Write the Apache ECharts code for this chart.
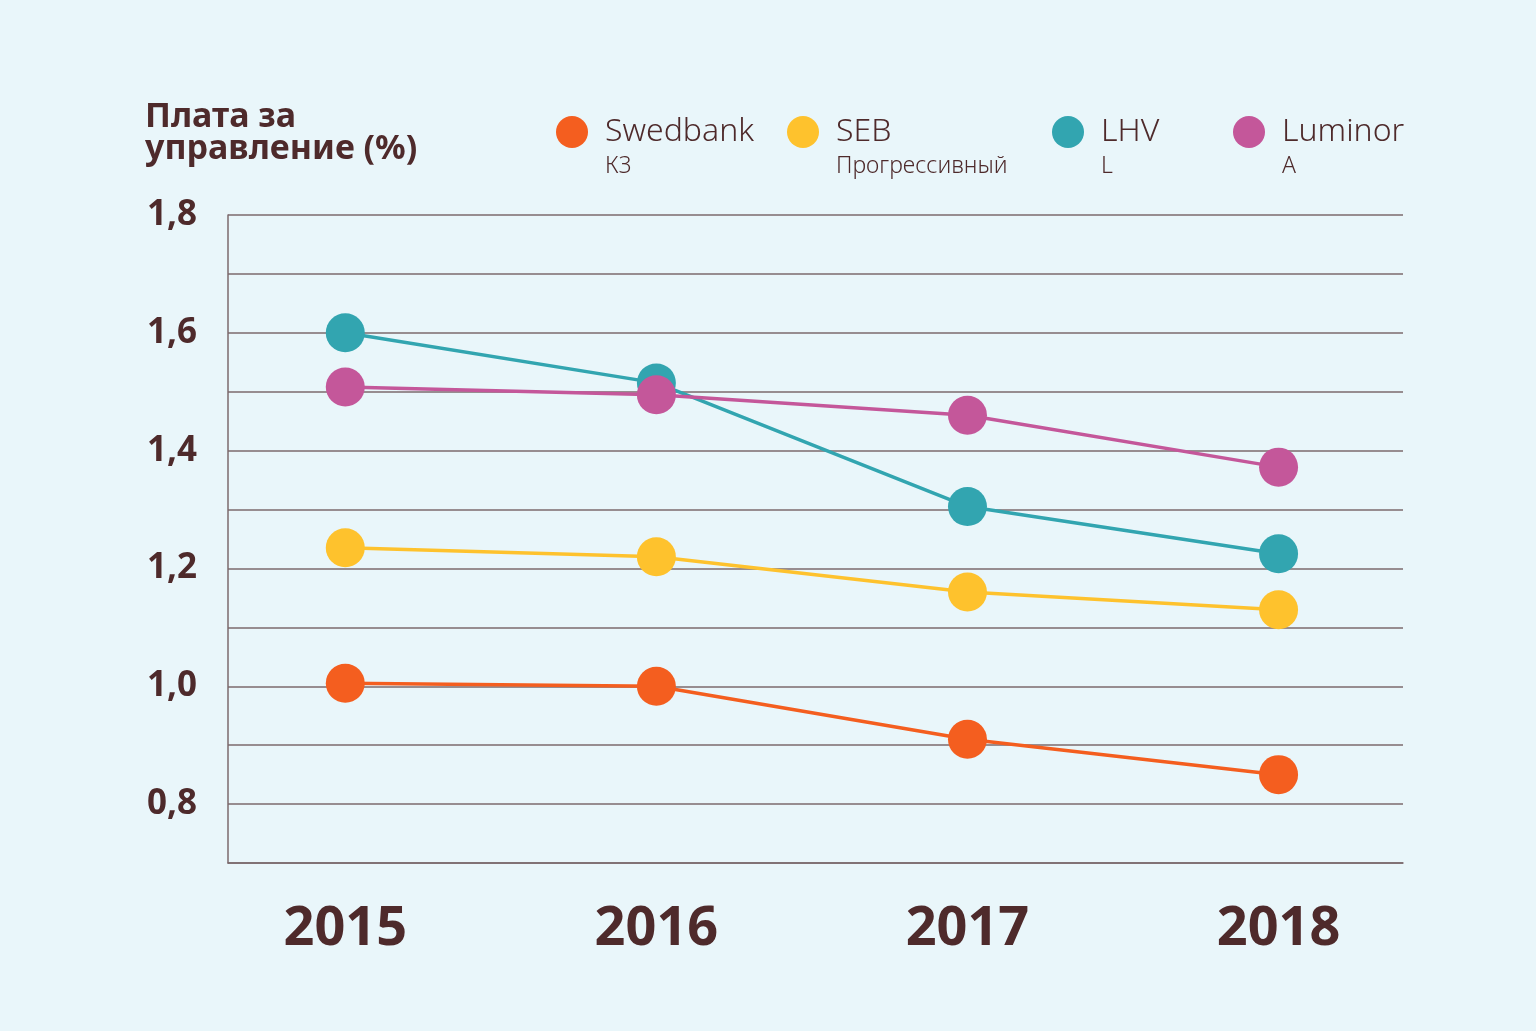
<!DOCTYPE html>
<html>
<head>
<meta charset="utf-8">
<script src="https://cdn.jsdelivr.net/npm/echarts@6/dist/echarts.min.js"></script>
<style>
html,body{margin:0;padding:0;background:#e9f6fa;}
#chart{width:1536px;height:1031px;}
</style>
</head>
<body>
<div id="chart"></div>
<script>
// ---- data ----
const years = [2015, 2016, 2017, 2018];
const yearLabels = ['2015', '2016', '2017', '2018'];
const swedbank = [1.005, 1.0, 0.91, 0.85];
const seb = [1.235, 1.22, 1.16, 1.13];
const lhv = [1.6, 1.515, 1.305, 1.225];
const luminor = [1.508, 1.495, 1.46, 1.372];
const seriesNames = ['Swedbank', 'SEB', 'LHV', 'Luminor'];
const seriesSubs = ['К3', 'Прогрессивный', 'L', 'A'];
const yTickLabels = ['0,8', '1,0', '1,2', '1,4', '1,6', '1,8'];
const titleText = 'Плата за\nуправление (%)';

const colors = ['#f45e1f', '#fec22d', '#32a5b0', '#c4579a'];
const textColor = '#4e2a2b';
const gridColor = '#7b6a6c';
const values = [swedbank, seb, lhv, luminor];
const legendLefts = [556, 787, 1052, 1233];

const chart = echarts.init(document.getElementById('chart'), null, {renderer: 'canvas'});

const legends = seriesNames.map((name, i) => ({
  data: [name],
  left: legendLefts[i],
  top: 82,
  padding: 0,
  icon: 'circle',
  itemWidth: 32,
  itemHeight: 32,
  selectedMode: false,
  formatter: n => '{z| }\n{a|' + n + '}\n{b|' + seriesSubs[i] + '}',
  textStyle: {
    color: textColor,
    rich: {
      z: {fontSize: 10, lineHeight: 32, height: 32},
      a: {fontFamily: 'Noto Sans', fontSize: 32, fontWeight: 300, lineHeight: 36, color: textColor, padding: [0, 0, 0, 12]},
      b: {fontFamily: 'Noto Sans', fontSize: 23, fontWeight: 300, lineHeight: 32, color: textColor, padding: [0, 0, 0, 12]}
    }
  }
}));

const option = {
  backgroundColor: '#e9f6fa',
  animation: false,
  title: {
    text: titleText,
    left: 145,
    top: 101,
    padding: 0,
    textStyle: {fontFamily: 'Noto Sans', fontSize: 34, fontWeight: 'bold', lineHeight: 32, color: textColor}
  },
  legend: legends,
  grid: {left: 228, right: 133, top: 215, bottom: 168},
  xAxis: {
    type: 'value',
    min: 2014.623,
    max: 2018.4,
    axisLine: {show: true, onZero: false, lineStyle: {color: gridColor, width: 1.5}},
    axisTick: {show: false},
    splitLine: {show: false},
    axisLabel: {
      customValues: years,
      margin: 40,
      fontFamily: 'Noto Sans',
      fontSize: 54,
      fontWeight: 'bold',
      color: textColor,
      formatter: v => yearLabels[years.indexOf(Math.round(v))] || ''
    }
  },
  yAxis: {
    type: 'value',
    min: 0.7,
    max: 1.8,
    interval: 0.1,
    axisLine: {show: true, onZero: false, lineStyle: {color: gridColor, width: 1.5}},
    axisTick: {show: false},
    splitLine: {show: true, lineStyle: {color: gridColor, width: 1.5}},
    axisLabel: {
      margin: 31,
      fontFamily: 'Noto Sans',
      fontSize: 35,
      fontWeight: 'bold',
      color: textColor,
      padding: [6, 0, 0, 0],
      formatter: v => {
        const s = v.toFixed(1).replace('.', ',');
        return yTickLabels.includes(s) ? s : '';
      }
    }
  },
  series: seriesNames.map((name, i) => ({
    name: name,
    type: 'line',
    data: years.map((y, j) => [y, values[i][j]]),
    symbol: 'circle',
    symbolSize: 39,
    itemStyle: {color: colors[i]},
    lineStyle: {color: colors[i], width: 3.5},
    emphasis: {disabled: true},
    silent: true
  }))
};
chart.setOption(option);
</script>
</body>
</html>
